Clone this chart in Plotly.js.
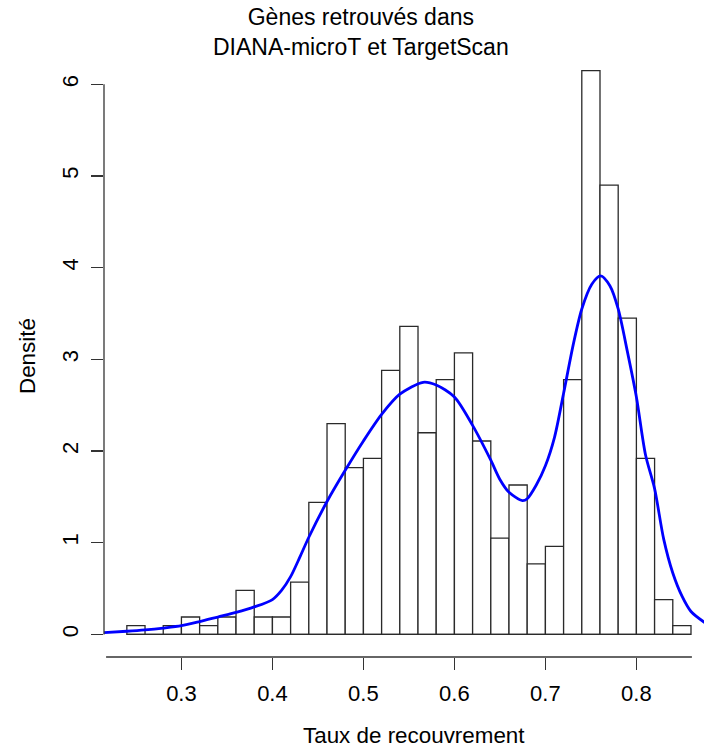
<!DOCTYPE html>
<html>
<head>
<meta charset="utf-8">
<script src="https://cdn.plot.ly/plotly-3.0.1.min.js"></script>
<style>
html, body { margin: 0; padding: 0; background: #fff; }
#chart { width: 704px; height: 747px; }
</style>
</head>
<body>
<div id="chart"></div>
<script>
// Histogram bins (left edges), width 0.02
var binStarts = [0.24, 0.26, 0.28, 0.30, 0.32, 0.34, 0.36, 0.38, 0.40, 0.42,
                 0.44, 0.46, 0.48, 0.50, 0.52, 0.54, 0.56, 0.58, 0.60, 0.62,
                 0.64, 0.66, 0.68, 0.70, 0.72, 0.74, 0.76, 0.78, 0.80, 0.82, 0.84];
var binWidth = 0.02;
// Density of each bin
var binDensity = [0.096, 0, 0.096, 0.19, 0.096, 0.19, 0.48, 0.19, 0.19, 0.57,
                  1.44, 2.30, 1.82, 1.92, 2.88, 3.36, 2.20, 2.78, 3.07, 2.11,
                  1.05, 1.63, 0.77, 0.96, 2.78, 6.15, 4.90, 3.45, 1.92, 0.38, 0.096];

// Kernel density curve
var densX = [0.215, 0.24, 0.26, 0.28, 0.30, 0.32, 0.34, 0.36, 0.38, 0.40,
             0.41, 0.42, 0.43, 0.44, 0.46, 0.48, 0.50, 0.52, 0.54, 0.5656,
             0.58, 0.60, 0.62, 0.64, 0.65, 0.66, 0.6747, 0.68, 0.69, 0.70,
             0.71, 0.72, 0.731, 0.74, 0.751, 0.7607, 0.771, 0.78, 0.79, 0.80,
             0.81, 0.82, 0.83, 0.84, 0.85, 0.86, 0.875];
var densY = [0.02, 0.035, 0.05, 0.07, 0.095, 0.14, 0.19, 0.24, 0.30, 0.38,
             0.48, 0.63, 0.84, 1.06, 1.45, 1.79, 2.11, 2.40, 2.62, 2.75,
             2.72, 2.59, 2.28, 1.90, 1.69, 1.55, 1.46, 1.48, 1.63, 1.84,
             2.15, 2.63, 3.18, 3.55, 3.82, 3.91, 3.80, 3.55, 3.09, 2.59,
             1.96, 1.59, 1.04, 0.67, 0.42, 0.25, 0.13];

var xTicks = [0.3, 0.4, 0.5, 0.6, 0.7, 0.8];
var xTickText = ['0.3', '0.4', '0.5', '0.6', '0.7', '0.8'];
var yTicks = [0, 1, 2, 3, 4, 5, 6];
var yTickText = ['0', '1', '2', '3', '4', '5', '6'];

var titleText = 'Gènes retrouvés dans<br>DIANA-microT et TargetScan';
var xTitle = 'Taux de recouvrement';
var yTitle = 'Densité';

var FONT = '"Liberation Sans", Arial, Helvetica, sans-serif';
var AX = '#333333';

var binCenters = binStarts.map(function (s) { return s + binWidth / 2; });

var traces = [
  {
    type: 'bar',
    x: binCenters,
    y: binDensity,
    width: binWidth,
    marker: { color: '#ffffff', line: { color: '#2a2a2a', width: 1.3 } },
    hoverinfo: 'x+y',
    showlegend: false
  },
  {
    type: 'scatter',
    mode: 'lines',
    x: densX,
    y: densY,
    line: { color: '#0000ff', width: 2.8, shape: 'spline', smoothing: 0.8 },
    hoverinfo: 'x+y',
    showlegend: false
  }
];

var layout = {
  width: 704,
  height: 747,
  margin: { l: 104, r: 0, t: 48, b: 90, pad: 0 },
  paper_bgcolor: '#ffffff',
  plot_bgcolor: '#ffffff',
  font: { family: FONT, color: '#000000', size: 22 },
  bargap: 0,
  xaxis: {
    range: [0.2149, 0.8743],
    showgrid: false, zeroline: false, showline: false,
    tickmode: 'array', tickvals: xTicks, ticktext: xTickText,
    ticks: 'outside', ticklen: 12, tickwidth: 1.3, tickcolor: AX,
    ticklabelstandoff: 5,
    tickfont: { family: FONT, size: 22, color: '#000000' },
    fixedrange: true
  },
  yaxis: {
    range: [-0.246, 6.396],
    showgrid: false, zeroline: false, showline: false,
    tickmode: 'array', tickvals: yTicks, ticktext: yTickText,
    ticks: 'outside', ticklen: 12, tickwidth: 1.3, tickcolor: AX,
    tickangle: -90,
    ticklabelstandoff: 4,
    tickfont: { family: FONT, size: 22, color: '#000000' },
    fixedrange: true
  },
  shapes: [
    // x axis line (R style, below the plot region)
    { type: 'line', xref: 'x', yref: 'paper', x0: 0.2172, x1: 0.861, y0: 0, y1: 0,
      line: { color: AX, width: 1.3 } },
    // y axis line from first to last tick
    { type: 'line', xref: 'paper', yref: 'y', x0: 0, x1: 0, y0: yTicks[0], y1: yTicks[yTicks.length - 1],
      line: { color: AX, width: 1.3 } },
    // histogram baseline
    { type: 'line', xref: 'x', yref: 'y', x0: binStarts[0], x1: binStarts[binStarts.length - 1] + binWidth,
      y0: 0, y1: 0, line: { color: '#2a2a2a', width: 1.3 } }
  ],
  annotations: [
    { text: titleText, xref: 'paper', yref: 'paper', x: (361 - 104) / 600, y: (657 - 32.5) / 609,
      xanchor: 'center', yanchor: 'middle', showarrow: false,
      font: { family: FONT, size: 23, color: '#000000' } },
    { text: xTitle, xref: 'paper', yref: 'paper', x: (413.5 - 104) / 600, y: (657 - 735) / 609,
      xanchor: 'center', yanchor: 'middle', showarrow: false,
      font: { family: FONT, size: 22.4, color: '#000000' } },
    { text: yTitle, xref: 'paper', yref: 'paper', x: (27 - 104) / 600, y: (657 - 356) / 609,
      xanchor: 'center', yanchor: 'middle', showarrow: false, textangle: -90,
      font: { family: FONT, size: 22.4, color: '#000000' } }
  ]
};

Plotly.newPlot('chart', traces, layout, { displayModeBar: false, staticPlot: true });
</script>
</body>
</html>
